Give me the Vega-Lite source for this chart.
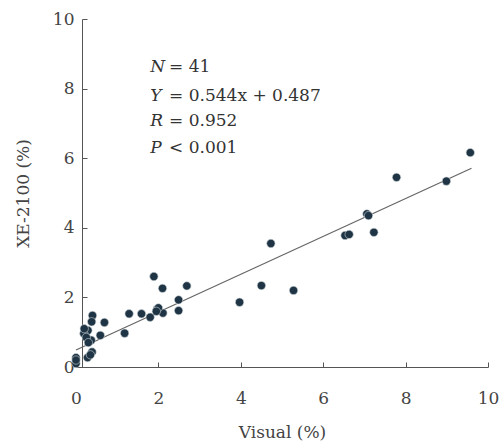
{
  "$schema": "https://vega.github.io/schema/vega-lite/v6.json",
  "width": 412,
  "height": 348,
  "autosize": "none",
  "padding": {"left": 76, "top": 19, "right": 14, "bottom": 78},
  "background": "white",
  "config": {
    "view": {"stroke": null},
    "axis": {
      "grid": false,
      "domainColor": "#555",
      "tickColor": "#555",
      "labelFont": "DejaVu Serif",
      "labelFontSize": 17,
      "labelColor": "#444",
      "labelFlush": false,
      "labelOverlap": false,
      "titleFont": "DejaVu Serif",
      "titleFontSize": 17,
      "titleFontWeight": "normal",
      "titleColor": "#444"
    }
  },
  "datasets": {
    "pts": [
      {"visual": 9.57, "xe": 6.16}, {"visual": 8.99, "xe": 5.34}, {"visual": 7.78, "xe": 5.45},
      {"visual": 7.06, "xe": 4.40}, {"visual": 7.10, "xe": 4.35}, {"visual": 7.23, "xe": 3.87},
      {"visual": 6.53, "xe": 3.78}, {"visual": 6.63, "xe": 3.81}, {"visual": 4.73, "xe": 3.55},
      {"visual": 4.50, "xe": 2.34}, {"visual": 5.28, "xe": 2.20}, {"visual": 3.97, "xe": 1.86},
      {"visual": 1.89, "xe": 2.60}, {"visual": 2.10, "xe": 2.26}, {"visual": 2.69, "xe": 2.33},
      {"visual": 2.49, "xe": 1.93}, {"visual": 2.49, "xe": 1.62}, {"visual": 1.97, "xe": 1.66},
      {"visual": 2.11, "xe": 1.55}, {"visual": 1.80, "xe": 1.43}, {"visual": 1.59, "xe": 1.53},
      {"visual": 1.29, "xe": 1.53}, {"visual": 1.18, "xe": 0.97}, {"visual": 0.69, "xe": 1.28},
      {"visual": 0.59, "xe": 0.91}, {"visual": 0.40, "xe": 1.48}, {"visual": 0.29, "xe": 1.05},
      {"visual": 0.19, "xe": 0.96}, {"visual": 0.37, "xe": 0.77}, {"visual": 0.39, "xe": 0.43},
      {"visual": 0.28, "xe": 0.27}, {"visual": 0.00, "xe": 0.27}, {"visual": 0.00, "xe": 0.10},
      {"visual": 0.38, "xe": 1.30}, {"visual": 0.20, "xe": 1.10}, {"visual": 0.25, "xe": 0.85},
      {"visual": 2.00, "xe": 1.70}, {"visual": 0.00, "xe": 0.20}, {"visual": 0.35, "xe": 0.35},
      {"visual": 0.30, "xe": 0.70}, {"visual": 1.95, "xe": 1.60}
    ],
    "fit": [
      {"visual": 0.0, "xe": 0.487},
      {"visual": 9.6, "xe": 5.709}
    ],
    "notes": [
      {"x": 1.8, "xr": 2.26, "y": 8.62, "sym": "N", "rest": "= 41"},
      {"x": 1.8, "xr": 2.26, "y": 7.80, "sym": "Y", "rest": "= 0.544x + 0.487"},
      {"x": 1.8, "xr": 2.26, "y": 7.06, "sym": "R", "rest": "= 0.952"},
      {"x": 1.8, "xr": 2.26, "y": 6.28, "sym": "P", "rest": "< 0.001"}
    ]
  },
  "layer": [
    {
      "data": {"name": "fit"},
      "mark": {"type": "line", "color": "#666", "strokeWidth": 1.2},
      "encoding": {
        "x": {
          "field": "visual", "type": "quantitative",
          "scale": {"domain": [0, 10], "nice": false},
          "axis": {"title": "Visual (%)", "values": [0, 2, 4, 6, 8, 10], "tickSize": -5, "labelPadding": 28, "titlePadding": 18}
        },
        "y": {
          "field": "xe", "type": "quantitative",
          "scale": {"domain": [0, 10], "nice": false},
          "axis": {"title": "XE-2100 (%)", "values": [0, 2, 4, 6, 8, 10], "tickSize": -5, "labelPadding": 13, "titlePadding": 20, "offset": -6}
        }
      }
    },
    {
      "data": {"name": "pts"},
      "mark": {"type": "circle", "size": 70, "color": "#1f3444", "opacity": 1, "stroke": "#cfd6da", "strokeWidth": 0.6},
      "encoding": {
        "x": {"field": "visual", "type": "quantitative"},
        "y": {"field": "xe", "type": "quantitative"}
      }
    },
    {
      "data": {"name": "notes"},
      "mark": {"type": "text", "font": "DejaVu Serif", "fontSize": 17, "fontStyle": "italic", "color": "#333", "align": "left", "baseline": "middle"},
      "encoding": {
        "x": {"field": "x", "type": "quantitative"},
        "y": {"field": "y", "type": "quantitative"},
        "text": {"field": "sym"}
      }
    },
    {
      "data": {"name": "notes"},
      "mark": {"type": "text", "font": "DejaVu Serif", "fontSize": 17, "color": "#333", "align": "left", "baseline": "middle"},
      "encoding": {
        "x": {"field": "xr", "type": "quantitative"},
        "y": {"field": "y", "type": "quantitative"},
        "text": {"field": "rest"}
      }
    }
  ]
}
